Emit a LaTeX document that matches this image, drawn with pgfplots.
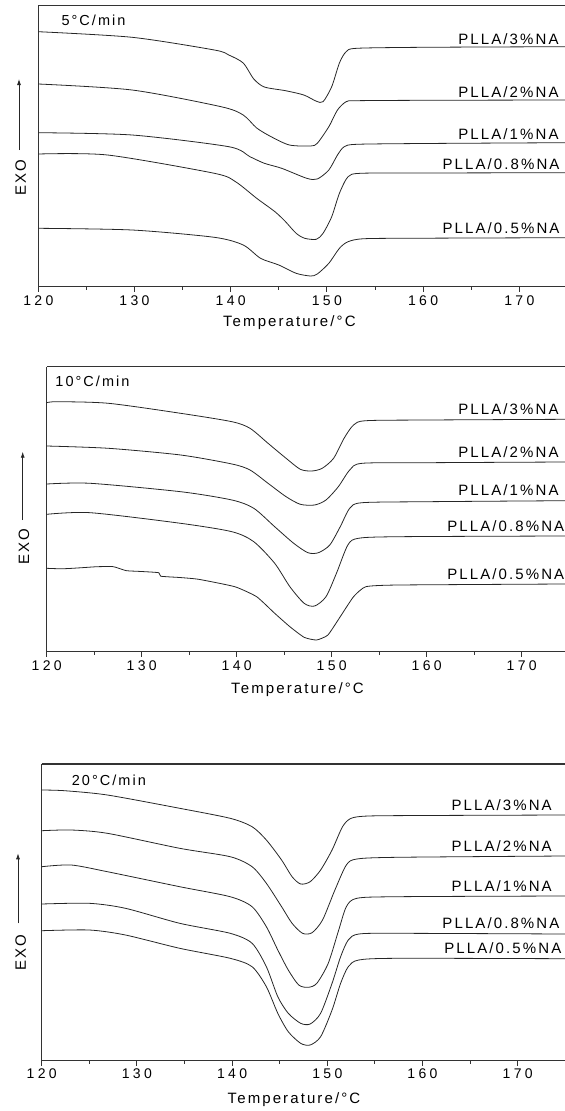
\documentclass[border=0pt]{standalone}
\usepackage{fontspec}
\setmainfont{Liberation Sans}
\newfontfamily\labfam[LetterSpace=14]{Liberation Sans}
\newfontfamily\tckfam[LetterSpace=24]{Liberation Sans}
\usepackage{pgfplots}
\pgfplotsset{compat=1.18}
\usetikzlibrary{arrows.meta}
\newcommand{\labfont}{\fontsize{15bp}{17bp}\selectfont\labfam}
\newcommand{\ratefont}{\fontsize{14.5bp}{17bp}\selectfont\labfam}
\newcommand{\tickfont}{\fontsize{14bp}{16bp}\selectfont\tckfam}
\pgfplotsset{
  dsc/.style={
    scale only axis, anchor=south west, xmin=120,
    axis x line*=bottom, axis y line*=left,
    ytick=\empty, xtick={120,130,...,170}, minor xtick={125,135,...,175},
    tick align=outside, major tick length=5bp, minor tick length=3bp,
    axis line style={line width=1.3bp, black!80},
    tick style={black!80, line width=1bp},
    xticklabel style={font=\tickfont},
    /pgf/number format/assume math mode=true,
    clip=false,
  },
}
\tikzset{plab/.style={anchor=base east, font=\labfont, inner sep=0pt},
  crv/.style={line width=0.8bp, black!85, smooth, tension=0.45, mark=none}}
\begin{document}
\begin{tikzpicture}
\path[use as bounding box] (0,0) rectangle (565bp,-1111bp);
% ---------- panel 1: 5 C/min ----------
\begin{axis}[dsc, at={(38.3bp,-286.7bp)}, width=526.7bp, height=281bp,
  xmax=174.75, ymin=-286.7, ymax=-5.7]
\draw[line width=1.3bp, black!80] (rel axis cs:0,1) -- (rel axis cs:1,1);
\addplot[crv] coordinates {(120,-31.7) (129.75,-37.3) (138.3,-50) (139.8,-55) (141.3,-63) (142.4,-79) (143.5,-87) (145.7,-90.7) (147.6,-95) (148.9,-101.2) (149.6,-101.7) (150.5,-86.7) (151.3,-63) (152,-51.7) (153.1,-48.3) (160,-47.3) (174.75,-46.7)};
\addplot[crv] coordinates {(120,-84) (129.75,-90) (139,-106.7) (141.3,-115) (142.7,-128) (144.2,-136.7) (146.1,-145) (148.3,-146) (149,-143.3) (150.2,-126.7) (151.1,-110) (152,-101.7) (153.1,-100.7) (160,-100.3) (174.75,-100)};
\addplot[crv] coordinates {(120,-132.7) (129.75,-135) (139.8,-146.7) (142,-156.7) (143.5,-163.3) (145.3,-168.3) (147.9,-178.3) (149,-179) (150.2,-170) (151.1,-155) (151.8,-146.7) (153.1,-144.3) (160,-143.5) (174.75,-142.7)};
\addplot[crv] coordinates {(120,-154) (127.2,-155) (138.3,-173.3) (140.5,-181.7) (142.7,-198.3) (144.6,-211.7) (145.7,-221.7) (146.8,-233.3) (147.7,-238.3) (148.9,-239.3) (149.6,-233.3) (150.5,-216.7) (151.3,-193.3) (152.2,-176.7) (153.5,-173.3) (160,-173) (174.75,-172.7)};
\addplot[crv] coordinates {(120,-228.3) (129.75,-230) (138.3,-237.3) (141.3,-245) (143.1,-258.3) (145,-265) (146.8,-273.3) (148.3,-276) (149,-274) (150.2,-263.3) (151.3,-248.3) (152.2,-241.7) (153.9,-238.7) (160,-238.2) (174.75,-237.7)};
\node[plab] at (axis cs:174.1,-44) {PLLA/3\%NA};
\node[plab] at (axis cs:174.1,-97.3) {PLLA/2\%NA};
\node[plab] at (axis cs:174.1,-139) {PLLA/1\%NA};
\node[plab] at (axis cs:174.2,-169.3) {PLLA/0.8\%NA};
\node[plab] at (axis cs:174.2,-233.3) {PLLA/0.5\%NA};
\node[anchor=base west, font=\ratefont, inner sep=0pt] at (axis cs:122.4,-25.7) {5°C/min};
\node[anchor=base, font=\labfont, inner sep=0pt, yshift=-39.3bp] at (axis cs:146.1,-286.7) {Temperature/°C};
\end{axis}
% ---------- panel 2: 10 C/min ----------
\begin{axis}[dsc, at={(46.7bp,-651.7bp)}, width=518.3bp, height=285bp,
  xmax=174.56, ymin=-651.7, ymax=-366.7]
\draw[line width=1.3bp, black!80] (rel axis cs:0,1) -- (rel axis cs:1,1);
\addplot[crv] coordinates {(120,-402.7) (121.1,-401.7) (126.5,-403.3) (134.1,-413.3) (139.5,-421.7) (141.4,-428.3) (143.3,-443.3) (145.2,-458.3) (146.7,-469.3) (147.9,-471) (149,-468.3) (150.2,-458.3) (151.3,-438.3) (152.3,-425) (153.6,-420.7) (160,-420) (174.56,-419.3)};
\addplot[crv] coordinates {(120,-446) (126.5,-448.3) (134.1,-455) (139.5,-464) (141.4,-470) (143.3,-483.3) (145.2,-496.7) (146.7,-504.3) (148.2,-505) (149.4,-500) (150.7,-486.7) (151.9,-470) (153.2,-463.3) (160,-462.7) (174.56,-462)};
\addplot[crv] coordinates {(120,-484) (124.6,-483.3) (134.1,-491.7) (139.5,-500) (141.8,-508.3) (144,-526.7) (146,-543.3) (147.5,-552.7) (148.6,-552.7) (149.8,-545) (150.9,-526.7) (151.9,-508.3) (153.2,-502.7) (160,-501.7) (174.56,-500.7)};
\addplot[crv] coordinates {(120,-514.3) (124.6,-512.7) (134.1,-523.3) (139.5,-531.7) (141.8,-541.7) (144,-563.3) (145.6,-586.7) (147.1,-603.3) (148.2,-606) (149.4,-596.7) (150.5,-573.3) (151.7,-545) (152.8,-538.3) (157,-536.7) (174.56,-536)};
\addplot[crv, tension=0.3] coordinates {(120,-568.3) (121.5,-568.8) (122.7,-568.3) (124,-567.5) (125.3,-566.7) (126.9,-566.5) (127.5,-568) (128.4,-570.7) (130,-571.5) (131.8,-572.7) (132,-576.2) (134,-577.5) (136,-579.3) (139.8,-586.7) (142.1,-596.7) (144,-613.3) (145.6,-626.7) (147.1,-637.3) (148.4,-640) (149.6,-635) (150.9,-616.7) (152.3,-596.7) (153.6,-586.7) (157,-585) (174.56,-584)};
\node[plab] at (axis cs:173.9,-414) {PLLA/3\%NA};
\node[plab] at (axis cs:173.9,-457.3) {PLLA/2\%NA};
\node[plab] at (axis cs:173.9,-495) {PLLA/1\%NA};
\node[plab] at (axis cs:174.5,-531.7) {PLLA/0.8\%NA};
\node[plab] at (axis cs:174.5,-579) {PLLA/0.5\%NA};
\node[anchor=base west, font=\ratefont, inner sep=0pt] at (axis cs:120.9,-386) {10°C/min};
\node[anchor=base, font=\labfont, inner sep=0pt, yshift=-41.3bp] at (axis cs:146.4,-651.7) {Temperature/°C};
\end{axis}
% ---------- panel 3: 20 C/min ----------
\begin{axis}[dsc, at={(41.7bp,-1060.5bp)}, width=523.3bp, height=296.5bp,
  xmax=174.97, ymin=-1060.5, ymax=-764]
\draw[line width=1.3bp, black!80] (rel axis cs:0,1) -- (rel axis cs:1,1);
\addplot[crv] coordinates {(120,-790) (122.4,-790.7) (126.9,-795) (134.5,-808.3) (139.8,-818.3) (142.1,-826.7) (143.6,-840) (145.2,-860) (146.3,-876.7) (147.2,-884) (148.2,-881.7) (149.3,-870) (150.5,-850) (151.6,-826.7) (152.5,-818.3) (154.3,-816) (160,-815.5) (174.97,-815)};
\addplot[crv] coordinates {(120,-830.7) (123.1,-830) (126.9,-833.3) (134.5,-848.3) (139.8,-856.7) (142.1,-866.7) (143.6,-883.3) (145.2,-906.7) (146.3,-923.3) (147.4,-933.3) (148.4,-932.7) (149.5,-920) (150.8,-890) (152,-865) (153.1,-859) (157.3,-857.3) (174.97,-856)};
\addplot[crv] coordinates {(120,-866.7) (123.1,-865) (126.9,-871.7) (134.5,-886.7) (139.8,-896.7) (142.1,-906.7) (143.6,-926.7) (144.8,-950) (145.9,-970) (147,-985) (148,-987.3) (148.9,-983.3) (150.1,-963.3) (151.2,-930) (152,-906.7) (153.1,-898.3) (157.3,-896.7) (174.97,-896)};
\addplot[crv] coordinates {(120,-904) (125,-903.3) (128.8,-908.3) (134.5,-923.3) (139.8,-933.3) (142.1,-943.3) (143.6,-966.7) (144.8,-996.7) (145.9,-1013.3) (147.2,-1023.3) (148.2,-1024) (149.3,-1013.3) (150.5,-983.3) (151.4,-956.7) (152.2,-940) (153.3,-934) (157.3,-933.3) (174.97,-934)};
\addplot[crv] coordinates {(120,-930.7) (125,-930) (128.8,-935) (134.5,-948.3) (139.8,-958.3) (142.1,-966.7) (143.6,-986.7) (144.8,-1013.3) (145.9,-1031.7) (147.2,-1043.3) (148.2,-1045) (149.3,-1036.7) (150.5,-1010) (151.4,-983.3) (152.2,-966.7) (153.3,-960) (157.3,-958.3) (174.97,-958.7)};
\node[plab] at (axis cs:173.6,-810) {PLLA/3\%NA};
\node[plab] at (axis cs:173.6,-851.7) {PLLA/2\%NA};
\node[plab] at (axis cs:173.6,-891.7) {PLLA/1\%NA};
\node[plab] at (axis cs:174.4,-928.3) {PLLA/0.8\%NA};
\node[plab] at (axis cs:174.6,-953.3) {PLLA/0.5\%NA};
\node[anchor=base west, font=\ratefont, inner sep=0pt] at (axis cs:123.15,-785) {20°C/min};
\node[anchor=base, font=\labfont, inner sep=0pt, yshift=-42.5bp] at (axis cs:146.5,-1060.5) {Temperature/°C};
\end{axis}
% ---------- EXO labels and arrows ----------
\node[rotate=90, font=\labfont, inner sep=0pt] at (20.7bp,-178bp) {EXO};
\draw[-{Latex[length=6bp,width=4bp]}, line width=0.8bp, black!85] (19bp,-150bp) -- (19bp,-79bp);
\node[rotate=90, font=\labfont, inner sep=0pt] at (24bp,-546.7bp) {EXO};
\draw[-{Latex[length=6bp,width=4bp]}, line width=0.8bp, black!85] (22.7bp,-520bp) -- (22.7bp,-451.7bp);
\node[rotate=90, font=\labfont, inner sep=0pt] at (20.7bp,-953bp) {EXO};
\draw[-{Latex[length=6bp,width=4bp]}, line width=0.8bp, black!85] (18bp,-923.3bp) -- (18bp,-853.3bp);
\end{tikzpicture}
\end{document}
